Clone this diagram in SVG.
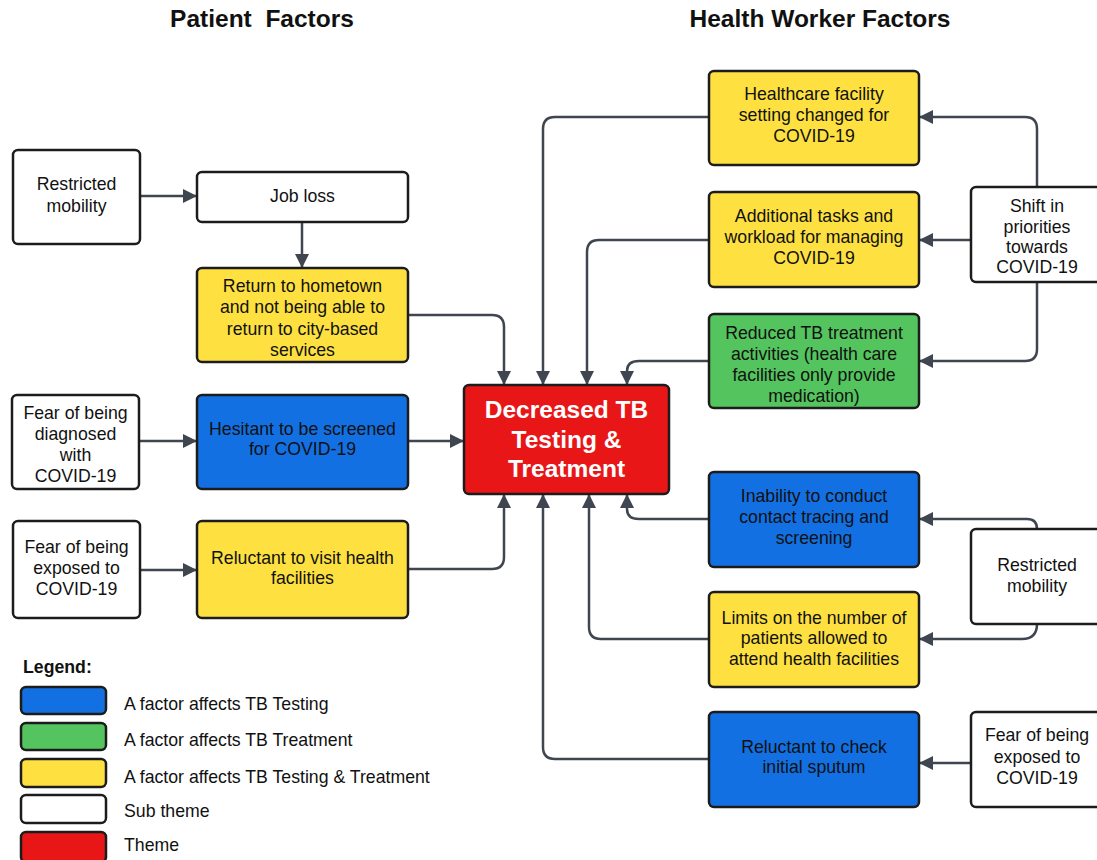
<svg xmlns="http://www.w3.org/2000/svg" width="1097" height="860" viewBox="0 0 1097 860">
<defs>
<style>
.n{stroke:#1c1c1c;stroke-width:2.5}
.w{fill:#ffffff}.b{fill:#1370E3}.g{fill:#54C45E}.y{fill:#FEE140}.r{fill:#E81616}
text{font-family:"Liberation Sans",Arial,sans-serif;font-size:17.7px;fill:#111;text-anchor:middle}
.t{font-weight:bold;font-size:24.5px;white-space:pre}
.rt{font-weight:bold;font-size:24.5px;fill:#fff}
.lg{text-anchor:start}
.c{fill:none;stroke:#3F4650;stroke-width:2.5;marker-end:url(#ah)}
</style>
<marker id="ah" markerUnits="userSpaceOnUse" markerWidth="16" markerHeight="14" refX="14" refY="7" orient="auto">
<path d="M0,0 L14,7 L0,14 Z" fill="#3F4650"/>
</marker>
</defs>
<rect width="1097" height="860" fill="#fff"/>
<text class="t" x="262" y="27" xml:space="preserve">Patient  Factors</text>
<text class="t" x="820" y="27">Health Worker Factors</text>

<g id="connectors">
<path class="c" d="M140,196 H197"/>
<path class="c" d="M302,222 V268"/>
<path class="c" d="M408,315 H492 Q504,315 504,327 V385"/>
<path class="c" d="M139,441 H197"/>
<path class="c" d="M408,441 H464"/>
<path class="c" d="M140,570 H197"/>
<path class="c" d="M408,569 H492 Q504,569 504,557 V494"/>
<path class="c" d="M709,117 H555 Q543,117 543,129 V385"/>
<path class="c" d="M709,240 H599 Q587,240 587,252 V385"/>
<path class="c" d="M709,361 H639 Q627,361 627,371 V385"/>
<path class="c" d="M1037,187 V129 Q1037,117 1025,117 H919"/>
<path class="c" d="M971,240 H919"/>
<path class="c" d="M1037,282 V349 Q1037,361 1025,361 H919"/>
<path class="c" d="M709,519 H639 Q627,519 627,509 V494"/>
<path class="c" d="M709,639 H601 Q589,639 589,627 V494"/>
<path class="c" d="M709,759 H555 Q543,759 543,747 V494"/>
<path class="c" d="M1037,529 Q1037,519 1027,519 H919"/>
<path class="c" d="M1037,624 Q1037,639 1022,639 H919"/>
<path class="c" d="M971,763 H919"/>
</g>

<g id="n-restricted-left"><rect class="n w" x="13" y="150" width="127" height="94" rx="5"/><text x="76.5" y="190">Restricted</text><text x="76.5" y="212">mobility</text></g>
<g id="n-jobloss"><rect class="n w" x="197" y="172" width="211" height="50" rx="5"/><text x="302.5" y="202">Job loss</text></g>
<g id="n-return"><rect class="n y" x="197" y="268" width="211" height="94" rx="5"/><text x="302.5" y="292">Return to hometown</text><text x="302.5" y="313">and not being able to</text><text x="302.5" y="335">return to city-based</text><text x="302.5" y="356">services</text></g>
<g id="n-fear-diag"><rect class="n w" x="12" y="395" width="127" height="94" rx="5"/><text x="75.5" y="419">Fear of being</text><text x="75.5" y="440">diagnosed</text><text x="75.5" y="461">with</text><text x="75.5" y="482">COVID-19</text></g>
<g id="n-hesitant"><rect class="n b" x="197" y="395" width="211" height="94" rx="5"/><text x="302.5" y="435">Hesitant to be screened</text><text x="302.5" y="455">for COVID-19</text></g>
<g id="n-fear-exp-left"><rect class="n w" x="13" y="521" width="127" height="97" rx="5"/><text x="76.5" y="553">Fear of being</text><text x="76.5" y="574">exposed to</text><text x="76.5" y="595">COVID-19</text></g>
<g id="n-reluctant-visit"><rect class="n y" x="197" y="521" width="211" height="97" rx="5"/><text x="302.5" y="564">Reluctant to visit health</text><text x="302.5" y="584">facilities</text></g>

<g id="n-theme"><rect class="n r" x="464" y="385" width="205" height="109" rx="5"/><text class="rt" x="566.5" y="418">Decreased TB</text><text class="rt" x="566.5" y="448">Testing &amp;</text><text class="rt" x="566.5" y="477">Treatment</text></g>

<g id="n-healthcare"><rect class="n y" x="709" y="71" width="210" height="94" rx="5"/><text x="814" y="100">Healthcare facility</text><text x="814" y="121">setting changed for</text><text x="814" y="142">COVID-19</text></g>
<g id="n-additional"><rect class="n y" x="709" y="192" width="210" height="95" rx="5"/><text x="814" y="222">Additional tasks and</text><text x="814" y="243">workload for managing</text><text x="814" y="264">COVID-19</text></g>
<g id="n-reduced"><rect class="n g" x="709" y="314" width="210" height="94" rx="5"/><text x="814" y="339">Reduced TB treatment</text><text x="814" y="360">activities (health care</text><text x="814" y="381">facilities only provide</text><text x="814" y="402">medication)</text></g>
<g id="n-shift"><rect class="n w" x="971" y="187" width="132" height="95" rx="5"/><text x="1037" y="212">Shift in</text><text x="1037" y="233">priorities</text><text x="1037" y="253">towards</text><text x="1037" y="273">COVID-19</text></g>
<g id="n-inability"><rect class="n b" x="709" y="472" width="210" height="95" rx="5"/><text x="814" y="502">Inability to conduct</text><text x="814" y="523">contact tracing and</text><text x="814" y="544">screening</text></g>
<g id="n-limits"><rect class="n y" x="709" y="592" width="210" height="95" rx="5"/><text x="814" y="624">Limits on the number of</text><text x="814" y="644">patients allowed to</text><text x="814" y="665">attend health facilities</text></g>
<g id="n-reluctant-check"><rect class="n b" x="709" y="712" width="210" height="95" rx="5"/><text x="814" y="753">Reluctant to check</text><text x="814" y="773">initial sputum</text></g>
<g id="n-restricted-right"><rect class="n w" x="971" y="529" width="132" height="95" rx="5"/><text x="1037" y="571">Restricted</text><text x="1037" y="592">mobility</text></g>
<g id="n-fear-exp-right"><rect class="n w" x="971" y="712" width="132" height="95" rx="5"/><text x="1037" y="741">Fear of being</text><text x="1037" y="763">exposed to</text><text x="1037" y="784">COVID-19</text></g>

<g id="legend">
<text class="lg" x="23" y="673" font-weight="bold">Legend:</text>
<rect class="n b" x="21" y="687" width="85" height="27" rx="5"/><text class="lg" x="124" y="710">A factor affects TB Testing</text>
<rect class="n g" x="21" y="723" width="85" height="27" rx="5"/><text class="lg" x="124" y="746">A factor affects TB Treatment</text>
<rect class="n y" x="21" y="759" width="85" height="28" rx="5"/><text class="lg" x="124" y="783">A factor affects TB Testing &amp; Treatment</text>
<rect class="n w" x="21" y="795" width="85" height="28" rx="5"/><text class="lg" x="124" y="817">Sub theme</text>
<rect class="n r" x="21" y="832" width="85" height="30" rx="5"/><text class="lg" x="124" y="851">Theme</text>
</g>
</svg>
